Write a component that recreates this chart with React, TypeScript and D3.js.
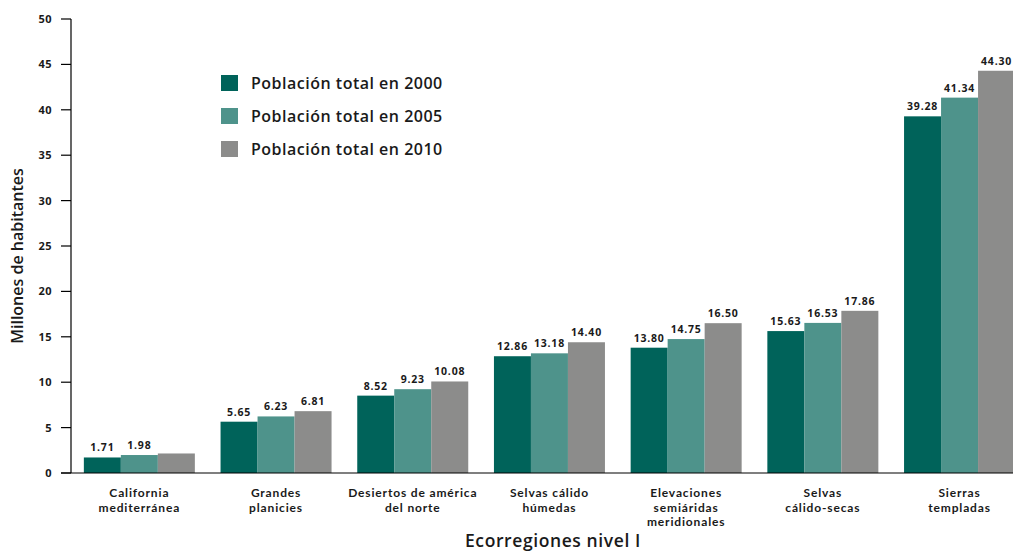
import React from "react";
import * as d3 from "d3";

const categories = [
  ["California", "mediterránea"],
  ["Grandes", "planicies"],
  ["Desiertos de américa", "del norte"],
  ["Selvas cálido", "húmedas"],
  ["Elevaciones", "semiáridas", "meridionales"],
  ["Selvas", "cálido-secas"],
  ["Sierras", "templadas"],
];
const seriesNames = ["Población total en 2000", "Población total en 2005", "Población total en 2010"];
const values2000 = [1.71, 5.65, 8.52, 12.86, 13.8, 15.63, 39.28];
const values2005 = [1.98, 6.23, 9.23, 13.18, 14.75, 16.53, 41.34];
const values2010 = [2.15, 6.81, 10.08, 14.4, 16.5, 17.86, 44.3];
const labels2010 = [null, "6.81", "10.08", "14.40", "16.50", "17.86", "44.30"];
const yTicks = [0, 5, 10, 15, 20, 25, 30, 35, 40, 45, 50];
const colors = ["#00635a", "#4e938b", "#8c8c8b"];

const W = 1013;
const H = 553;
const FONT = "'Open Sans', 'Noto Sans', sans-serif";
const CAT_FONT = "Lato, 'Open Sans', sans-serif";

export default function App() {
  const left = 71;
  const step = 136.7;
  const y = d3.scaleLinear().domain([0, 50]).range([473, 19]);
  const keys = categories.map((c) => c.join(" "));
  const x0 = d3
    .scaleBand<string>()
    .domain(keys)
    .range([left, left + step * keys.length])
    .paddingInner(0.188)
    .paddingOuter(0.094);
  const x1 = d3.scaleBand<number>().domain([0, 1, 2]).range([0, x0.bandwidth()]);
  const series = [values2000, values2005, values2010];
  const labelSets = [
    values2000.map((v) => v.toFixed(2)),
    values2005.map((v) => v.toFixed(2)),
    labels2010,
  ];

  return (
    <svg width={W} height={H} style={{ position: "absolute", left: 0, top: 0 }} fontFamily={FONT}>
      <rect width={W} height={H} fill="#fff" />
      {series.map((vals, si) =>
        vals.map((v, i) => {
          const bx = (x0(keys[i]) as number) + (x1(si) as number);
          const by = y(v);
          return (
            <g key={`${si}-${i}`}>
              <rect x={bx} y={by} width={x1.bandwidth()} height={y(0) - by} fill={colors[si]} />
              {labelSets[si][i] && (
                <text
                  x={bx + x1.bandwidth() / 2}
                  y={by - 6}
                  textAnchor="middle"
                  fontSize={10.5}
                  fontWeight={700}
                  letterSpacing={0.8}
                  fill="#1a1a1a"
                >
                  {labelSets[si][i]}
                </text>
              )}
            </g>
          );
        })
      )}
      {/* y axis */}
      <line x1={left} x2={left} y1={y(50)} y2={y(0)} stroke="#000" strokeWidth={1.2} />
      {yTicks.map((t) => (
        <g key={t}>
          <line x1={left - 10} x2={left} y1={y(t)} y2={y(t)} stroke="#000" strokeWidth={1.2} />
          <text x={52} y={y(t) + 4} textAnchor="end" fontSize={11} fontWeight={700} letterSpacing={0.4} fill="#1a1a1a">
            {t}
          </text>
        </g>
      ))}
      {/* x axis */}
      <line x1={left - 10} x2={W} y1={y(0)} y2={y(0)} stroke="#000" strokeWidth={1.2} />
      {categories.map((lines, i) => {
        const cx = (x0(keys[i]) as number) + x0.bandwidth() / 2;
        return lines.map((l, j) => (
          <text
            key={`${i}-${j}`}
            x={cx}
            y={497 + j * 14.5}
            textAnchor="middle"
            fontFamily={CAT_FONT}
            fontSize={12}
            fontWeight={700}
            letterSpacing={0.85}
            fill="#1a1a1a"
          >
            {l}
          </text>
        ));
      })}
      <text x={553} y={547} textAnchor="middle" fontSize={17.5} fontWeight={600} letterSpacing={0.6} fill="#1a1a1a">
        Ecorregiones nivel I
      </text>
      <text
        transform={`translate(23,256) rotate(-90)`}
        textAnchor="middle"
        fontSize={16}
        fontWeight={600}
        fill="#1a1a1a"
      >
        Millones de habitantes
      </text>
      {/* legend */}
      {seriesNames.map((n, i) => (
        <g key={n} transform={`translate(221,${75 + i * 33})`}>
          <rect width={17} height={16} fill={colors[i]} />
          <text x={30} y={14} fontSize={16} fontWeight={600} letterSpacing={0.5} fill="#1a1a1a">
            {n}
          </text>
        </g>
      ))}
    </svg>
  );
}
